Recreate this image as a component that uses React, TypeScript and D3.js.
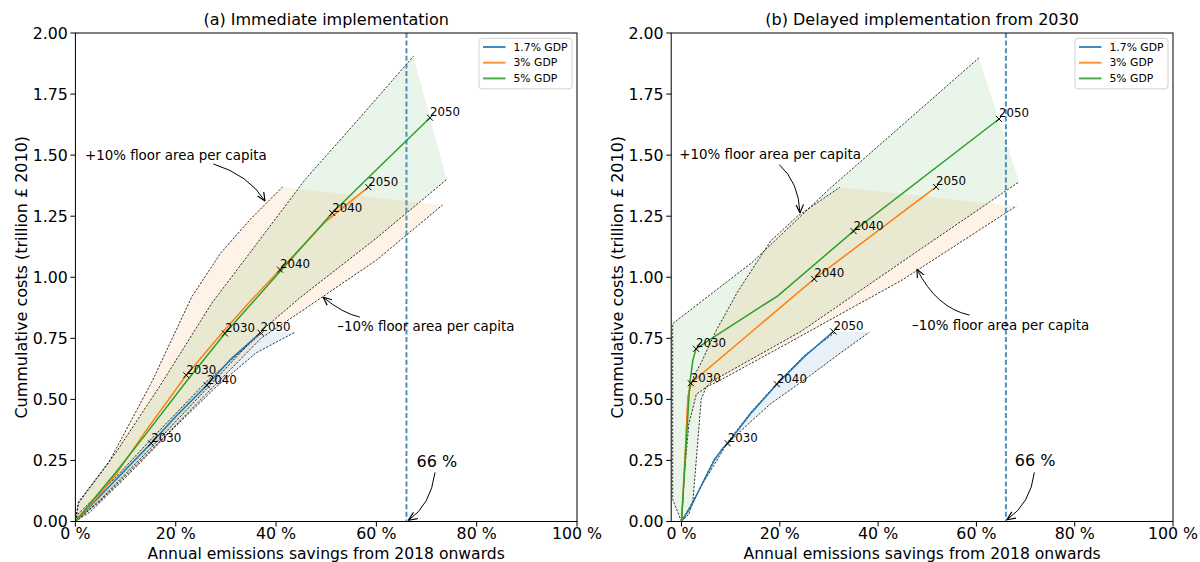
import React from "react";
import * as d3 from "d3";

type Pt = [number, number];

// shared
const gdpLabels = ["1.7% GDP", "3% GDP", "5% GDP"];
const gdpColors = ["#1f77b4", "#ff7f0e", "#2ca02c"];
const xTicks = [0, 20, 40, 60, 80, 100];
const yTicks = [0, 0.25, 0.5, 0.75, 1.0, 1.25, 1.5, 1.75, 2.0];
const target = 66;

// (a) immediate implementation: [% savings, trillion £]
const aBlue: Pt[] = [[0, 0], [4, 0.085], [8, 0.17], [15.1, 0.32], [20, 0.43], [26.2, 0.558], [31, 0.665], [36.9, 0.773]];
const aOrange: Pt[] = [[0, 0], [4, 0.09], [8, 0.19], [14, 0.37], [22.1, 0.599], [30, 0.79], [35, 0.905], [40.8, 1.031], [50, 1.23], [58.4, 1.369]];
const aGreen: Pt[] = [[0, 0], [4, 0.1], [8, 0.2], [14.7, 0.375], [22, 0.57], [29.8, 0.77], [40, 1.005], [51.2, 1.263], [60, 1.44], [70.7, 1.653]];
const aBlueUp: Pt[] = [[0, 0], [0.5, 0.03], [8, 0.18], [15, 0.335], [26, 0.57], [37.5, 0.778]];
const aBlueLo: Pt[] = [[0, 0], [3, 0.04], [10, 0.18], [20, 0.39], [28, 0.55], [36, 0.69], [43.8, 0.775]];
const aOrangeUp: Pt[] = [[0, 0], [0.6, 0.075], [6.6, 0.24], [15.2, 0.57], [23.2, 0.92], [29, 1.1], [35, 1.24], [41.3, 1.37]];
const aOrangeLo: Pt[] = [[0, 0], [5, 0.085], [15, 0.29], [26, 0.52], [37, 0.75], [45, 0.86], [60, 1.07], [73.2, 1.296]];
const aGreenUp: Pt[] = [[0, 0], [0.6, 0.08], [8, 0.28], [17, 0.56], [27.2, 0.894], [37, 1.16], [45.8, 1.4], [57, 1.66], [67.4, 1.905]];
const aGreenLo: Pt[] = [[0, 0], [5, 0.09], [15, 0.3], [26, 0.54], [37, 0.78], [45, 0.92], [60, 1.16], [74, 1.4]];
const aYears: [string, number, number][] = [
  ["2030", 15.1, 0.32], ["2040", 26.2, 0.558], ["2050", 36.9, 0.773],
  ["2030", 22.1, 0.599], ["2040", 40.8, 1.031], ["2050", 58.4, 1.369],
  ["2030", 29.8, 0.77], ["2040", 51.2, 1.263], ["2050", 70.7, 1.653],
];

// (b) delayed implementation from 2030
const bBlue: Pt[] = [[0, 0], [1.9, 0.061], [4.6, 0.17], [6.7, 0.252], [8.4, 0.3], [9.4, 0.32], [14, 0.44], [19.4, 0.562], [25, 0.675], [30.9, 0.778]];
const bOrange: Pt[] = [[0, 0], [0.8, 0.3], [1.3, 0.51], [1.9, 0.566], [14.1, 0.774], [27, 0.993], [51.8, 1.37]];
const bGreen: Pt[] = [[0, 0], [1.7, 0.57], [2.3, 0.66], [2.95, 0.707], [6.7, 0.757], [19.6, 0.924], [35, 1.189], [64.6, 1.648]];
const bBlueUp: Pt[] = [[0, 0], [2, 0.062], [4.6, 0.172], [6.7, 0.255], [9.4, 0.325], [14, 0.445], [19.4, 0.566], [25, 0.68], [31.5, 0.778]];
const bBlueLo: Pt[] = [[0, 0], [4.6, 0.165], [9, 0.31], [12, 0.37], [18, 0.48], [25, 0.58], [32, 0.685], [38.2, 0.775]];
const bOrangeUp: Pt[] = [[0, 0], [0.3, 0.09], [1.3, 0.51], [2.5, 0.595], [4, 0.65], [7, 0.78], [11.4, 0.94], [18.2, 1.15], [23.6, 1.25], [32.2, 1.368]];
const bOrangeLo: Pt[] = [[0, 0], [0.6, 0.2], [1.5, 0.4], [3, 0.52], [5, 0.55], [7.4, 0.573], [22.9, 0.744], [45, 0.99], [68.1, 1.291]];
const bGreenUp: Pt[] = [[0, 0], [-1.8, 0.09], [-1.8, 0.81], [14.3, 1.06], [30, 1.36], [60.5, 1.898]];
const bGreenLo: Pt[] = [[0, 0], [1.5, 0.03], [2.3, 0.08], [3.2, 0.3], [4, 0.5], [5, 0.55], [6.7, 0.58], [24.3, 0.778], [45, 1.065], [68.7, 1.391]];
const bYears: [string, number, number][] = [
  ["2030", 9.4, 0.32], ["2040", 19.4, 0.562], ["2050", 30.9, 0.778],
  ["2030", 1.9, 0.566], ["2040", 27.0, 0.993], ["2050", 51.8, 1.37],
  ["2030", 2.95, 0.707], ["2040", 35.0, 1.189], ["2050", 64.6, 1.648],
];

type Note = { text: string; at: Pt; from: Pt; ctrl: Pt; to: Pt; size: number };

const aNotes: Note[] = [
  { text: "+10% floor area per capita", at: [1.9, 1.482], from: [27.5, 1.464], ctrl: [34.6, 1.418], to: [37.8, 1.312], size: 13.4 },
  { text: "\u201310% floor area per capita", at: [52.2, 0.781], from: [56.7, 0.837], ctrl: [53.3, 0.852], to: [49.4, 0.918], size: 13.4 },
  { text: "66 %", at: [68.0, 0.225], from: [71.7, 0.201], ctrl: [70.8, 0.066], to: [66.4, 0.005], size: 16 },
];
const bNotes: Note[] = [
  { text: "+10% floor area per capita", at: [-0.47, 1.484], from: [19.9, 1.461], ctrl: [23.9, 1.388], to: [24.1, 1.263], size: 13.4 },
  { text: "\u201310% floor area per capita", at: [46.9, 0.783], from: [58.6, 0.845], ctrl: [51.9, 0.874], to: [47.9, 1.033], size: 13.4 },
  { text: "66 %", at: [67.8, 0.227], from: [71.8, 0.201], ctrl: [71.0, 0.073], to: [66.2, 0.007], size: 16 },
];

const FONT = "DejaVu Sans, sans-serif";
const TOP = 33;
const BOTTOM = 521.5;

interface PanelProps {
  id: string;
  title: string;
  left: number;
  right: number;
  xMin: number;
  lines: Pt[][];
  bands: [Pt[], Pt[]][];
  years: [string, number, number][];
  notes: Note[];
}

const Panel: React.FC<PanelProps> = ({ id, title, left, right, xMin, lines, bands, years, notes }) => {
  const x = d3.scaleLinear().domain([xMin, 100]).range([left, right]);
  const y = d3.scaleLinear().domain([0, 2]).range([BOTTOM, TOP]);
  const line = d3.line<Pt>().x((d) => x(d[0])).y((d) => y(d[1]));
  const cx = (left + right) / 2;
  const legX = right - 98;

  return (
    <g fontFamily={FONT}>
      <defs>
        <clipPath id={`clip-${id}`}>
          <rect x={left} y={TOP} width={right - left} height={BOTTOM - TOP} />
        </clipPath>
        <marker id={`arr-${id}`} viewBox="0 0 10 10" refX="9.5" refY="5" markerWidth="9" markerHeight="9" markerUnits="userSpaceOnUse" orient="auto">
          <path d="M0,0.8 L9.5,5 L0,9.2" fill="none" stroke="#000" strokeWidth="1.3" />
        </marker>
      </defs>

      <g clipPath={`url(#clip-${id})`}>
        {bands.map(([up, lo], i) => (
          <path key={`f${i}`} d={line([...up, ...lo.slice().reverse()]) + "Z"} fill={gdpColors[i]} fillOpacity={0.1} />
        ))}
        {bands.map(([up, lo], i) => (
          <g key={`d${i}`} fill="none" stroke="#000" strokeWidth={0.8} strokeDasharray="2.2,1.5">
            <path d={line(up) ?? ""} />
            <path d={line(lo) ?? ""} />
          </g>
        ))}
        {lines.map((l, i) => (
          <path key={`l${i}`} d={line(l) ?? ""} fill="none" stroke={gdpColors[i]} strokeWidth={1.5} />
        ))}
        <line x1={x(target)} x2={x(target)} y1={TOP} y2={BOTTOM} stroke="#1f77b4" strokeOpacity={0.8} strokeWidth={2} strokeDasharray="5,2.6" />
        {years.map(([yr, px, py], i) => (
          <g key={`m${i}`}>
            <path
              d={`M${x(px) - 3},${y(py) - 3}L${x(px) + 3},${y(py) + 3}M${x(px) - 3},${y(py) + 3}L${x(px) + 3},${y(py) - 3}`}
              stroke="#000"
              strokeWidth={1}
            />
            <text x={x(px)} y={y(py) - 1.5} fontSize={11.8} fill="#000">
              {yr}
            </text>
          </g>
        ))}
      </g>

      {notes.map((n, i) => (
        <g key={`n${i}`}>
          <text x={x(n.at[0])} y={y(n.at[1])} fontSize={n.size} fill="#000">
            {n.text}
          </text>
          <path
            d={`M${x(n.from[0])},${y(n.from[1])}Q${x(n.ctrl[0])},${y(n.ctrl[1])} ${x(n.to[0])},${y(n.to[1])}`}
            fill="none"
            stroke="#000"
            strokeWidth={1}
            markerEnd={`url(#arr-${id})`}
          />
        </g>
      ))}

      {/* legend */}
      <rect x={legX} y={38.4} width={93} height={50.5} rx={3} fill="#fff" fillOpacity={0.8} stroke="#d0d0d0" strokeWidth={1} />
      {gdpLabels.map((g, i) => (
        <g key={g}>
          <line x1={legX + 4} x2={legX + 26.5} y1={47 + i * 15.7} y2={47 + i * 15.7} stroke={gdpColors[i]} strokeWidth={2} strokeOpacity={0.85} />
          <text x={legX + 34.5} y={47 + i * 15.7} dy="0.35em" fontSize={10.8} fill="#000">
            {g}
          </text>
        </g>
      ))}

      {/* axes frame */}
      <rect x={left} y={TOP} width={right - left} height={BOTTOM - TOP} fill="none" stroke="#000" strokeWidth={1} />
      {yTicks.map((t) => (
        <g key={`y${t}`}>
          <line x1={left - 5} x2={left} y1={y(t)} y2={y(t)} stroke="#000" />
          <text x={left - 7.5} y={y(t)} dy="0.36em" textAnchor="end" fontSize={15.8}>
            {t.toFixed(2)}
          </text>
        </g>
      ))}
      {xTicks.map((t) => (
        <g key={`x${t}`}>
          <line x1={x(t)} x2={x(t)} y1={BOTTOM} y2={BOTTOM + 5} stroke="#000" />
          <text x={x(t)} y={BOTTOM + 11.5} dy="0.36em" textAnchor="middle" fontSize={15.8}>
            {`${t} %`}
          </text>
        </g>
      ))}
      <text x={cx} y={25} textAnchor="middle" fontSize={16}>
        {title}
      </text>
      <text x={cx} y={558.5} textAnchor="middle" fontSize={15.6}>
        Annual emissions savings from 2018 onwards
      </text>
      <text
        transform={`translate(${left - 54},${(TOP + BOTTOM) / 2}) rotate(-90)`}
        textAnchor="middle"
        dy="0.35em"
        fontSize={16}
      >
        Cummulative costs (trillion £ 2010)
      </text>
    </g>
  );
};

export default function App() {
  return (
    <svg
      width={1200}
      height={562}
      viewBox="0 0 1200 562"
      style={{ position: "absolute", left: 0, top: 0, background: "#fff" }}
    >
      <rect width={1200} height={562} fill="#fff" />
      <Panel
        id="a"
        title="(a) Immediate implementation"
        left={75.4}
        right={577}
        xMin={0}
        lines={[aBlue, aOrange, aGreen]}
        bands={[[aBlueUp, aBlueLo], [aOrangeUp, aOrangeLo], [aGreenUp, aGreenLo]]}
        years={aYears}
        notes={aNotes}
      />
      <Panel
        id="b"
        title="(b) Delayed implementation from 2030"
        left={671.2}
        right={1173}
        xMin={-2.1}
        lines={[bBlue, bOrange, bGreen]}
        bands={[[bBlueUp, bBlueLo], [bOrangeUp, bOrangeLo], [bGreenUp, bGreenLo]]}
        years={bYears}
        notes={bNotes}
      />
    </svg>
  );
}
